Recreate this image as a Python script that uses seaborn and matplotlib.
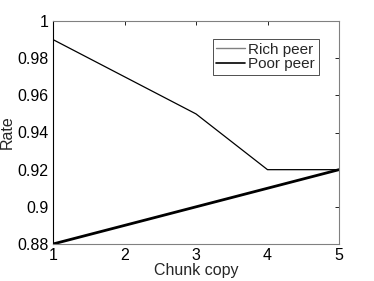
import matplotlib
matplotlib.use("Agg")
import matplotlib.pyplot as plt
import seaborn as sns
import pandas as pd

chunk_copy = [1, 2, 3, 4, 5]
rich_peer = [0.99, 0.97, 0.95, 0.92, 0.92]
poor_peer = [0.88, 0.89, 0.90, 0.91, 0.92]

sns.set_style("white")
plt.rcParams['font.family'] = ['Liberation Sans', 'DejaVu Sans']

df = pd.DataFrame({"Chunk copy": chunk_copy, "Rich peer": rich_peer, "Poor peer": poor_peer})

fig = plt.figure(figsize=(3.74, 2.81), dpi=100)
ax = fig.add_axes([53 / 374, 1 - 244 / 281, (339 - 53) / 374, (244 - 21) / 281])

sns.lineplot(data=df, x="Chunk copy", y="Rich peer", ax=ax, color="black", linewidth=0.9, label="Rich peer")
sns.lineplot(data=df, x="Chunk copy", y="Poor peer", ax=ax, color="black", linewidth=2.0, label="Poor peer")

ax.set_xlim(1, 5)
ax.set_ylim(0.88, 1.0)
ax.set_xticks([1, 2, 3, 4, 5])
ax.set_yticks([0.88, 0.9, 0.92, 0.94, 0.96, 0.98, 1.0])
ax.set_yticklabels(["0.88", "0.9", "0.92", "0.94", "0.96", "0.98", "1"])
ax.tick_params(direction="in", length=3, width=0.6, labelsize=11.5, colors="black",
               top=True, right=True, pad=3)
for side in ["top", "right", "bottom"]:
    ax.spines[side].set_color("#808080")
    ax.spines[side].set_linewidth(0.8)
ax.spines["left"].set_color("black")
ax.spines["left"].set_linewidth(0.8)

ax.set_xlabel("Chunk copy", fontsize=11.5, labelpad=0)
ax.set_ylabel("Rate", fontsize=11.5, labelpad=2)

leg = ax.legend(loc="upper right", bbox_to_anchor=(0.93, 0.92), frameon=True, fancybox=False,
                fontsize=11, handlelength=1.9, handletextpad=0.2, borderpad=0.25,
                labelspacing=0.05, borderaxespad=0)
leg.get_frame().set_edgecolor("black")
leg.get_frame().set_linewidth(0.6)
leg.get_lines()[0].set_color("#808080")
leg.get_lines()[0].set_linewidth(1.0)
leg.get_lines()[1].set_linewidth(1.2)

fig.savefig("out.png", dpi=100)
